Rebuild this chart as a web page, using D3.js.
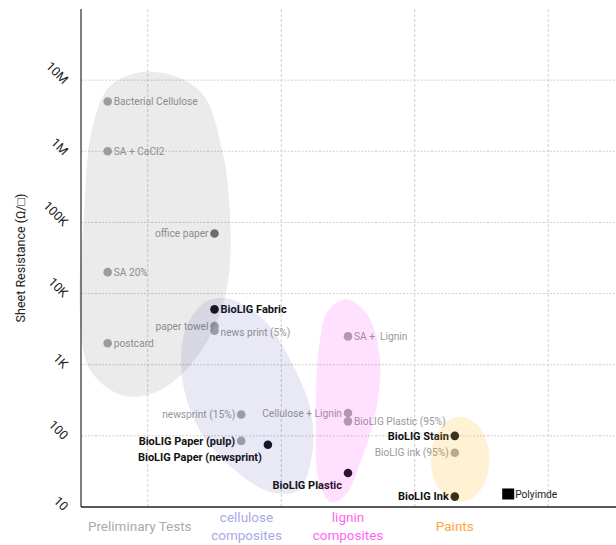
<!DOCTYPE html>
<html>
<head>
<meta charset="utf-8">
<script src="https://cdn.jsdelivr.net/npm/d3@7"></script>
<style>
  body { margin: 0; background: #fff; }
  svg { font-family: Roboto, "Open Sans", sans-serif; display: block; }
</style>
</head>
<body>
<svg id="chart"></svg>
<script>
const width = 616;
const height = 545;

// point data
const names = ["Bacterial Cellulose", "SA + CaCI2", "office paper", "SA 20%", "BioLIG Fabric", "paper towel",
  "news print (5%)", "postcard", "newsprint (15%)", "BioLIG Paper (pulp)", "BioLIG Paper (newsprint)",
  "SA +  Lignin", "Cellulose + Lignin", "BioLIG Plastic (95%)", "BioLIG Plastic", "BioLIG Stain",
  "BioLIG ink (95%)", "BioLIG Ink", "Polyimde"];
const xPos = [0.2, 0.2, 1.0, 0.2, 1.0, 1.0, 1.0, 0.2, 1.2, 1.2, 1.4, 2.0, 2.0, 2.0, 2.0, 2.8, 2.8, 2.8, 3.2];
const resistance = [5e6, 1e6, 7e4, 2e4, 6000, 3500, 3000, 2000, 200, 85, 75, 2500, 210, 160, 30, 100, 58, 14, 15];
const featured = ["BioLIG Fabric", "BioLIG Paper (pulp)", "BioLIG Paper (newsprint)", "BioLIG Plastic", "BioLIG Stain", "BioLIG Ink"];

const yTicks = [10, 100, 1e3, 1e4, 1e5, 1e6, 1e7];
const yTickLabels = ["10", "100", "1K", "10K", "100K", "1M", "10M"];
const xGrid = [0.5, 1.5, 2.5, 3.5];

const categories = ["Preliminary Tests", "cellulose\ncomposites", "lignin\ncomposites", "Paints"];
const categoryX = [0.44, 1.24, 2.0, 2.8];
const categoryColors = ["#aaaaaa", "#a9a9e6", "#ff66f2", "#ffa53a"];

// group outlines in [x, log10(resistance)]
const blobPrelim = [[0.52, 7.12], [0.89, 6.85], [1.06, 6.0], [1.12, 4.9], [1.09, 4.05], [0.93, 3.28], [0.63, 2.68],
  [0.33, 2.56], [0.07, 2.92], [-0.01, 3.76], [0.02, 5.03], [0.08, 6.29], [0.22, 6.92]];
const blobCellulose = [[1.1, 3.93], [1.36, 3.65], [1.57, 3.06], [1.72, 2.36], [1.73, 1.73], [1.63, 1.24], [1.42, 1.21],
  [1.15, 1.52], [0.89, 2.08], [0.76, 2.78], [0.78, 3.48], [0.93, 3.88]];
const blobLignin = [[1.99, 3.92], [2.15, 3.69], [2.24, 3.06], [2.21, 2.36], [2.1, 1.66], [1.98, 1.17], [1.87, 1.07],
  [1.78, 1.38], [1.76, 2.22], [1.78, 3.2], [1.85, 3.76]];
const paintsCenter = [2.84, 1.67];
const paintsRadius = [0.22, 0.6];

const labelSide = {
  "office paper": "l", "paper towel": "l", "newsprint (15%)": "l", "BioLIG Paper (pulp)": "l",
  "BioLIG Paper (newsprint)": "bl", "Cellulose + Lignin": "l", "BioLIG Plastic": "bl",
  "BioLIG Stain": "l", "BioLIG ink (95%)": "l", "BioLIG Ink": "l"
};

const margin = { top: 9, right: 1, bottom: 38, left: 81 };

const svg = d3.select("#chart").attr("width", width).attr("height", height);

const x = d3.scaleLinear().domain([0, 4]).range([margin.left, width - margin.right]);
const y = d3.scaleLog().domain([10, 1e8]).range([height - margin.bottom, margin.top]);

// grid
svg.append("g")
  .selectAll("line")
  .data(yTicks.slice(1))
  .enter()
  .append("line")
  .attr("x1", margin.left)
  .attr("x2", width)
  .attr("y1", (d) => y(d))
  .attr("y2", (d) => y(d))
  .attr("stroke", "#cfcfcf")
  .attr("stroke-dasharray", "2,1.5");

svg.append("g")
  .selectAll("line")
  .data(xGrid)
  .enter()
  .append("line")
  .attr("x1", (d) => x(d))
  .attr("x2", (d) => x(d))
  .attr("y1", margin.top)
  .attr("y2", height - margin.bottom)
  .attr("stroke", "#cfcfcf")
  .attr("stroke-dasharray", "3,2");

// y axis ticks
const yAxis = d3.axisLeft(y).tickValues(yTicks).tickSize(0).tickFormat((d, i) => yTickLabels[i]);
const yAxisG = svg.append("g").attr("transform", `translate(${margin.left},0)`).call(yAxis);
yAxisG.select(".domain").remove();
yAxisG.selectAll("text")
  .attr("x", null)
  .attr("dy", "0.35em")
  .attr("text-anchor", "end")
  .attr("transform", (d) => `translate(-15,1) rotate(45)`)
  .attr("font-family", "Roboto, sans-serif")
  .attr("font-size", 12.5)
  .attr("fill", "#222");

svg.append("text")
  .attr("transform", `translate(25,${(margin.top + height - margin.bottom) / 2}) rotate(-90)`)
  .attr("text-anchor", "middle")
  .attr("font-size", 12.5)
  .attr("fill", "#222")
  .text("Sheet Resistance (Ω/□)");

// points
const points = names.map((n, i) => ({ name: n, x: xPos[i], r: resistance[i] }));
const dotColor = (d) => {
  if (d.name === "office paper") return "#777";
  if (featured.includes(d.name) && d.name !== "BioLIG Paper (pulp)") return "#15151c";
  return "#aaaaaa";
};

svg.append("g")
  .selectAll("circle")
  .data(points.filter((d) => d.name !== "Polyimde"))
  .enter()
  .append("circle")
  .attr("cx", (d) => x(d.x))
  .attr("cy", (d) => y(d.r))
  .attr("r", 4.3)
  .attr("fill", dotColor);

const poly = points.find((d) => d.name === "Polyimde");
svg.append("rect")
  .attr("x", x(poly.x) - 6)
  .attr("y", y(poly.r) - 6)
  .attr("width", 12)
  .attr("height", 11)
  .attr("fill", "#000");

svg.append("g")
  .selectAll("text")
  .data(points)
  .enter()
  .append("text")
  .attr("x", (d) => {
    const s = labelSide[d.name];
    if (d.name === "Polyimde") return x(d.x) + 7;
    return s ? x(d.x) - 6 : x(d.x) + 6;
  })
  .attr("y", (d) => {
    const s = labelSide[d.name];
    let off = 0;
    if (s === "bl") off = 12.5;
    if (d.name === "news print (5%)") off = 2;
    return y(d.r) + off;
  })
  .attr("dy", "0.35em")
  .attr("text-anchor", (d) => (labelSide[d.name] ? "end" : "start"))
  .attr("font-size", (d) => (featured.includes(d.name) ? 11 : 10.2))
  .attr("font-weight", (d) => (featured.includes(d.name) ? "bold" : "normal"))
  .attr("fill", (d) => (featured.includes(d.name) ? "#111" : d.name === "Polyimde" ? "#222" : "#999"))
  .style("white-space", "pre")
  .text((d) => d.name);

// group shapes on top (translucent)
const blobLine = d3.line()
  .x((d) => x(d[0]))
  .y((d) => y(Math.pow(10, d[1])))
  .curve(d3.curveCatmullRomClosed.alpha(0.5));

svg.append("path").attr("d", blobLine(blobPrelim)).attr("fill", "rgba(0,0,0,0.08)");
svg.append("path").attr("d", blobLine(blobCellulose)).attr("fill", "rgba(40,40,160,0.1)");
svg.append("path").attr("d", blobLine(blobLignin)).attr("fill", "rgba(255,0,255,0.12)");
svg.append("ellipse")
  .attr("cx", x(paintsCenter[0]))
  .attr("cy", y(Math.pow(10, paintsCenter[1])))
  .attr("rx", x(paintsRadius[0]) - x(0))
  .attr("ry", y(10) - y(Math.pow(10, 1 + paintsRadius[1])))
  .attr("fill", "rgba(255,170,0,0.17)");

// axis lines
svg.append("line")
  .attr("x1", margin.left).attr("x2", margin.left)
  .attr("y1", margin.top).attr("y2", height - margin.bottom)
  .attr("stroke", "#555").attr("stroke-width", 1.5);
svg.append("line")
  .attr("x1", margin.left).attr("x2", width)
  .attr("y1", height - margin.bottom).attr("y2", height - margin.bottom)
  .attr("stroke", "#222").attr("stroke-width", 1.5);

// category labels
const catG = svg.append("g")
  .selectAll("text")
  .data(categories)
  .enter()
  .append("text")
  .attr("text-anchor", "middle")
  .attr("font-size", 13.5)
  .attr("fill", (d, i) => categoryColors[i])
  .attr("y", (d) => (d.includes("\n") ? 522 : 531));
catG.selectAll("tspan")
  .data((d, i) => d.split("\n").map((t) => ({ t, i })))
  .enter()
  .append("tspan")
  .attr("x", (d) => x(categoryX[d.i]))
  .attr("dy", (d, j) => (j === 0 ? 0 : 18))
  .text((d) => d.t);
</script>
</body>
</html>
